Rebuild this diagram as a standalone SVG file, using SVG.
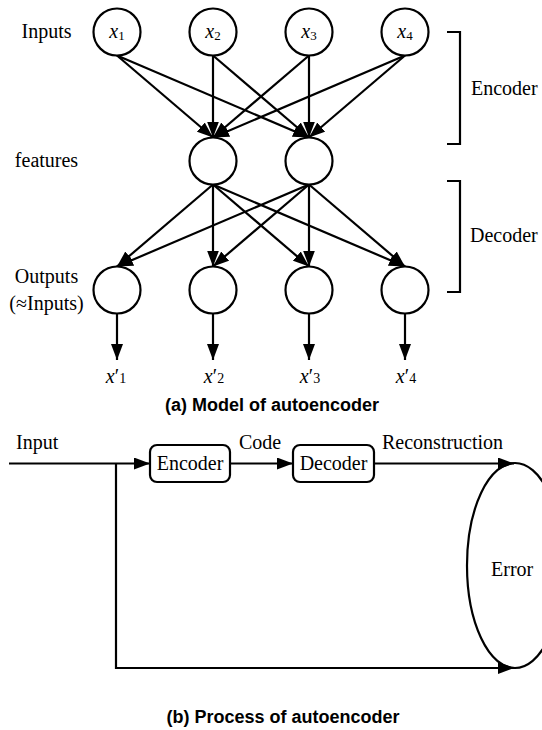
<svg xmlns="http://www.w3.org/2000/svg" width="542" height="730" viewBox="0 0 542 730">
<style>
.n{fill:#fff;stroke:#000;stroke-width:2.2}
.e{stroke:#000;stroke-width:2.2;fill:none}
.t{font-family:"Liberation Serif","Times New Roman",serif;font-size:20px;fill:#000}
.it{font-style:italic}
.cap{font-family:"Liberation Sans",Arial,sans-serif;font-size:18px;font-weight:bold;fill:#000}
</style>
<defs>
<marker id="ah" markerUnits="userSpaceOnUse" markerWidth="16" markerHeight="12" refX="16" refY="6" orient="auto">
<path d="M0,0 L16,6 L0,12 z" fill="#000"/>
</marker>
</defs>
<rect width="542" height="730" fill="#fff"/>

<g id="connectors">
<!-- encoder edges -->
<line class="e" x1="117" y1="55.5" x2="213" y2="137.5" marker-end="url(#ah)"/>
<line class="e" x1="117" y1="55.5" x2="309" y2="137.5" marker-end="url(#ah)"/>
<line class="e" x1="213" y1="55.5" x2="213" y2="137.5" marker-end="url(#ah)"/>
<line class="e" x1="213" y1="55.5" x2="309" y2="137.5" marker-end="url(#ah)"/>
<line class="e" x1="309" y1="55.5" x2="213" y2="137.5" marker-end="url(#ah)"/>
<line class="e" x1="309" y1="55.5" x2="309" y2="137.5" marker-end="url(#ah)"/>
<line class="e" x1="405" y1="55.5" x2="213" y2="137.5" marker-end="url(#ah)"/>
<line class="e" x1="405" y1="55.5" x2="309" y2="137.5" marker-end="url(#ah)"/>
<!-- decoder edges -->
<line class="e" x1="213" y1="184.5" x2="117" y2="266.5" marker-end="url(#ah)"/>
<line class="e" x1="213" y1="184.5" x2="213" y2="266.5" marker-end="url(#ah)"/>
<line class="e" x1="213" y1="184.5" x2="309" y2="266.5" marker-end="url(#ah)"/>
<line class="e" x1="213" y1="184.5" x2="405" y2="266.5" marker-end="url(#ah)"/>
<line class="e" x1="309" y1="184.5" x2="117" y2="266.5" marker-end="url(#ah)"/>
<line class="e" x1="309" y1="184.5" x2="213" y2="266.5" marker-end="url(#ah)"/>
<line class="e" x1="309" y1="184.5" x2="309" y2="266.5" marker-end="url(#ah)"/>
<line class="e" x1="309" y1="184.5" x2="405" y2="266.5" marker-end="url(#ah)"/>
<!-- output arrows -->
<line class="e" x1="117" y1="313.5" x2="117" y2="360" marker-end="url(#ah)"/>
<line class="e" x1="213" y1="313.5" x2="213" y2="360" marker-end="url(#ah)"/>
<line class="e" x1="309" y1="313.5" x2="309" y2="360" marker-end="url(#ah)"/>
<line class="e" x1="405" y1="313.5" x2="405" y2="360" marker-end="url(#ah)"/>
<!-- brackets -->
<path class="e" stroke-width="2.5" d="M447,32 H460 V144 H447"/>
<path class="e" stroke-width="2.5" d="M447,181 H460 V292 H447"/>
<!-- part b -->
<line class="e" x1="9" y1="463.5" x2="150" y2="463.5" marker-end="url(#ah)"/>
<line class="e" x1="230" y1="463.5" x2="293" y2="463.5" marker-end="url(#ah)"/>
<line class="e" x1="374" y1="463.5" x2="514" y2="463.5" marker-end="url(#ah)"/>
<path class="e" d="M116,463.5 V668 H514" marker-end="url(#ah)"/>
</g>

<g id="in1"><circle class="n" cx="117" cy="32" r="23.5"/><text class="t" x="117" y="38" text-anchor="middle"><tspan class="it">x</tspan><tspan font-size="13" dy="2">1</tspan></text></g>
<g id="in2"><circle class="n" cx="213" cy="32" r="23.5"/><text class="t" x="213" y="38" text-anchor="middle"><tspan class="it">x</tspan><tspan font-size="13" dy="2">2</tspan></text></g>
<g id="in3"><circle class="n" cx="309" cy="32" r="23.5"/><text class="t" x="309" y="38" text-anchor="middle"><tspan class="it">x</tspan><tspan font-size="13" dy="2">3</tspan></text></g>
<g id="in4"><circle class="n" cx="405" cy="32" r="23.5"/><text class="t" x="405" y="38" text-anchor="middle"><tspan class="it">x</tspan><tspan font-size="13" dy="2">4</tspan></text></g>

<g id="f1"><circle class="n" cx="213" cy="161" r="23.5"/></g>
<g id="f2"><circle class="n" cx="309" cy="161" r="23.5"/></g>

<g id="o1"><circle class="n" cx="117" cy="290" r="23.5"/></g>
<g id="o2"><circle class="n" cx="213" cy="290" r="23.5"/></g>
<g id="o3"><circle class="n" cx="309" cy="290" r="23.5"/></g>
<g id="o4"><circle class="n" cx="405" cy="290" r="23.5"/></g>

<g id="labels">
<text class="t" x="46.5" y="38" text-anchor="middle">Inputs</text>
<text class="t" x="46.5" y="167" text-anchor="middle">features</text>
<text class="t" x="46.5" y="283" text-anchor="middle">Outputs</text>
<text class="t" x="46.5" y="310" text-anchor="middle">(≈Inputs)</text>
<text class="t" x="471" y="95">Encoder</text>
<text class="t" x="470" y="242">Decoder</text>
<text class="t" x="116" y="383" text-anchor="middle"><tspan class="it">x</tspan>′<tspan font-size="14">1</tspan></text>
<text class="t" x="214" y="383" text-anchor="middle"><tspan class="it">x</tspan>′<tspan font-size="14">2</tspan></text>
<text class="t" x="310" y="383" text-anchor="middle"><tspan class="it">x</tspan>′<tspan font-size="14">3</tspan></text>
<text class="t" x="406" y="383" text-anchor="middle"><tspan class="it">x</tspan>′<tspan font-size="14">4</tspan></text>
<text class="cap" x="272" y="411" text-anchor="middle">(a) Model of autoencoder</text>
</g>

<g id="encoder"><rect class="n" x="150" y="445" width="80" height="37" rx="7"/><text class="t" x="190" y="470" text-anchor="middle">Encoder</text></g>
<g id="decoder"><rect class="n" x="293" y="445" width="81" height="37" rx="7"/><text class="t" x="333.5" y="470" text-anchor="middle">Decoder</text></g>
<g id="error"><ellipse class="e" cx="515" cy="565.5" rx="48" ry="102.5"/><text class="t" x="491" y="576">Error</text></g>

<g id="labels-b">
<text class="t" x="16" y="449">Input</text>
<text class="t" x="239" y="449">Code</text>
<text class="t" x="382" y="449">Reconstruction</text>
<text class="cap" x="283" y="723" text-anchor="middle">(b) Process of autoencoder</text>
</g>
</svg>
